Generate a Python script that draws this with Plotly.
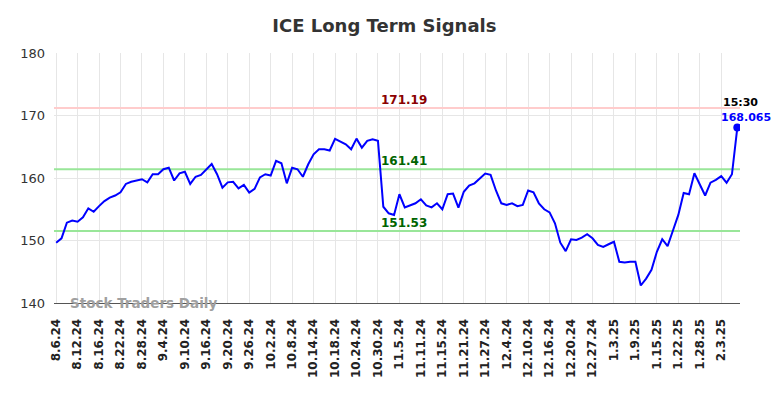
import plotly.graph_objects as go

dates = [
    "8.6.24", "8.7.24", "8.8.24", "8.9.24", "8.12.24", "8.13.24", "8.14.24", "8.15.24", "8.16.24",
    "8.19.24", "8.20.24", "8.21.24", "8.22.24", "8.23.24", "8.26.24", "8.27.24", "8.28.24", "8.29.24",
    "8.30.24", "9.3.24", "9.4.24", "9.5.24", "9.6.24", "9.9.24", "9.10.24", "9.11.24", "9.12.24",
    "9.13.24", "9.16.24", "9.17.24", "9.18.24", "9.19.24", "9.20.24", "9.23.24", "9.24.24", "9.25.24",
    "9.26.24", "9.27.24", "9.30.24", "10.1.24", "10.2.24", "10.3.24", "10.4.24", "10.7.24", "10.8.24",
    "10.9.24", "10.10.24", "10.11.24", "10.14.24", "10.15.24", "10.16.24", "10.17.24", "10.18.24",
    "10.21.24", "10.22.24", "10.23.24", "10.24.24", "10.25.24", "10.28.24", "10.29.24", "10.30.24",
    "10.31.24", "11.1.24", "11.4.24", "11.5.24", "11.6.24", "11.7.24", "11.8.24", "11.11.24",
    "11.12.24", "11.13.24", "11.14.24", "11.15.24", "11.18.24", "11.19.24", "11.20.24", "11.21.24",
    "11.22.24", "11.25.24", "11.26.24", "11.27.24", "11.29.24", "12.2.24", "12.3.24", "12.4.24",
    "12.5.24", "12.6.24", "12.9.24", "12.10.24", "12.11.24", "12.12.24", "12.13.24", "12.16.24",
    "12.17.24", "12.18.24", "12.19.24", "12.20.24", "12.23.24", "12.24.24", "12.26.24", "12.27.24",
    "12.30.24", "12.31.24", "1.2.25", "1.3.25", "1.6.25", "1.7.25", "1.8.25", "1.9.25", "1.10.25",
    "1.13.25", "1.14.25", "1.15.25", "1.16.25", "1.17.25", "1.21.25", "1.22.25", "1.23.25", "1.24.25",
    "1.27.25", "1.28.25", "1.29.25", "1.30.25", "1.31.25", "2.3.25", "2.4.25", "2.5.25", "2.6.25",
]

prices = [
    149.65, 150.35, 152.85, 153.2, 153.0, 153.7, 155.15, 154.6, 155.5, 156.3,
    156.85, 157.2, 157.7, 159.05, 159.4, 159.6, 159.8, 159.3, 160.6, 160.6,
    161.4, 161.65, 159.6, 160.75, 161.0, 159.05, 160.2, 160.5, 161.4, 162.25,
    160.6, 158.45, 159.3, 159.4, 158.35, 158.9, 157.65, 158.25, 160.1, 160.6,
    160.4, 162.75, 162.35, 159.15, 161.65, 161.4, 160.2, 162.2, 163.8, 164.6,
    164.6, 164.4, 166.25, 165.8, 165.4, 164.6, 166.3, 164.85, 165.95, 166.2,
    165.95, 155.4, 154.35, 154.1, 157.4, 155.3, 155.6, 155.95, 156.6, 155.6,
    155.3, 155.95, 155.0, 157.4, 157.5, 155.25, 157.8, 158.8, 159.15, 159.95,
    160.7, 160.5, 158.0, 155.95, 155.7, 155.95, 155.5, 155.7, 158.0, 157.7,
    155.95, 155.0, 154.5, 152.75, 149.65, 148.3, 150.2, 150.1, 150.45, 151.0,
    150.35, 149.3, 148.96, 149.4, 149.8, 146.6, 146.5, 146.6, 146.6, 142.8,
    143.9, 145.3, 148.2, 150.2, 149.1, 151.6, 154.1, 157.6, 157.4, 160.75,
    158.9, 157.2, 159.25, 159.7, 160.3, 159.25, 160.6, 168.065,
]

tick_labels = dates[::4]
resistance = 171.19
support_upper = 161.41
support_lower = 151.53
last_time = "15:30"

x_idx = list(range(len(dates)))
tick_pos = x_idx[::4]
n = len(dates)

fig = go.Figure()

for level, col in [(resistance, "#ffcccc"), (support_upper, "#99e699"), (support_lower, "#99e699")]:
    fig.add_trace(go.Scatter(
        x=[-0.4, n - 0.5], y=[level, level], mode="lines",
        line=dict(color=col, width=2), hoverinfo="skip", showlegend=False,
    ))

fig.add_trace(go.Scatter(
    x=x_idx, y=prices, mode="lines",
    line=dict(color="#0000ff", width=2), showlegend=False,
))
fig.add_trace(go.Scatter(
    x=[x_idx[-1]], y=[prices[-1]], mode="markers",
    marker=dict(color="#0000ff", size=8), showlegend=False,
))

ann_x = 60.2
for level, col in [(resistance, "#8b0000"), (support_upper, "#006400"), (support_lower, "#006400")]:
    fig.add_annotation(x=ann_x, y=level, text=f"{level:.2f}", showarrow=False,
                       xanchor="left", yanchor="bottom", yshift=-1,
                       font=dict(family="DejaVu Sans", size=12, color=col, weight="bold"))
fig.add_annotation(x=x_idx[-1], y=prices[-1], text=last_time, showarrow=False,
                   xanchor="center", yanchor="bottom", yshift=17, xshift=3,
                   font=dict(family="DejaVu Sans", size=11, color="#000000", weight="bold"))
fig.add_annotation(x=x_idx[-1], y=prices[-1], text=f"{prices[-1]:.3f}", showarrow=False,
                   xanchor="center", yanchor="bottom", yshift=2, xshift=9,
                   font=dict(family="DejaVu Sans", size=11, color="#0000ff", weight="bold"))
fig.add_annotation(xref="paper", yref="paper", x=0.021, y=0.0, text="Stock Traders Daily",
                   showarrow=False, xanchor="left", yanchor="middle",
                   font=dict(family="DejaVu Sans", size=13.5, color="#a0a0a0", weight="bold"))

fig.update_layout(
    width=776, height=390,
    margin=dict(l=39, r=44, t=45, b=95),
    paper_bgcolor="white", plot_bgcolor="white",
    title=dict(text="ICE Long Term Signals", x=0.485, xanchor="center", y=0.954, yanchor="middle",
               font=dict(family="DejaVu Sans", size=18, color="#333333", weight="bold")),
    xaxis=dict(range=[-0.4, n - 0.5], tickvals=tick_pos, ticktext=tick_labels, tickangle=-90,
               showgrid=True, gridcolor="#e6e6e6", gridwidth=1, zeroline=False,
               showline=True, linecolor="#555555", linewidth=1, ticks="",
               ticklabelstandoff=10,
               tickfont=dict(family="DejaVu Sans", size=12, color="#222222", weight="bold")),
    yaxis=dict(range=[140, 180], tickvals=[140, 150, 160, 170, 180],
               showgrid=True, gridcolor="#e6e6e6", gridwidth=1, zeroline=False,
               showline=False, ticks="", ticklabelstandoff=8,
               tickfont=dict(family="DejaVu Sans", size=13, color="#333333")),
)

fig.write_html("out.html")
